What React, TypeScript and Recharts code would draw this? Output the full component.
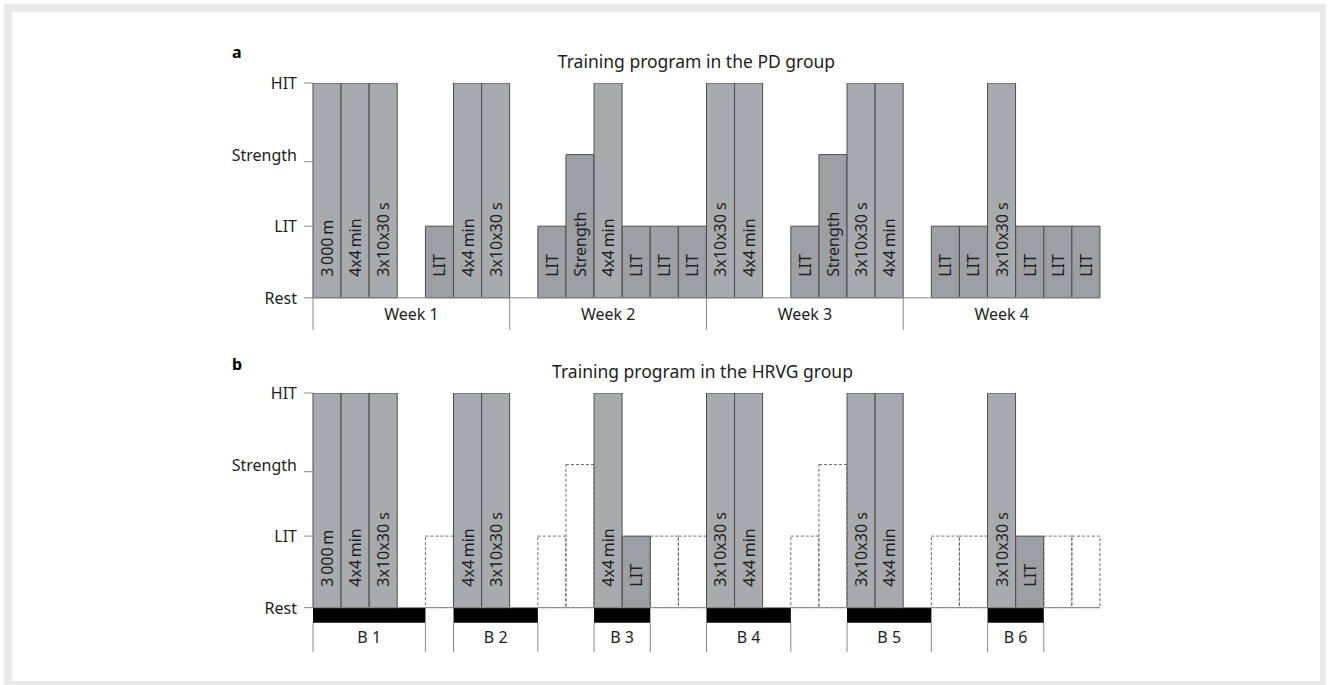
import React from 'react';
import { ComposedChart, Bar, XAxis, YAxis, ReferenceArea, ReferenceLine, Cell, LabelList } from 'recharts';

const days = ['d1','d2','d3','d4','d5','d6','d7','d8','d9','d10','d11','d12','d13','d14','d15','d16','d17','d18','d19','d20','d21','d22','d23','d24','d25','d26','d27','d28'];

// Panel a (PD group): 0 = Rest, 1 = LIT, 2 = Strength, 3 = HIT
const levelsA = [3,3,3,0,1,3,3, 0,1,2,3,1,1,1, 3,3,0,1,2,3,3, 0,1,1,3,1,1,1];
const labelsA = ['3\u2009000\u2009m','4x4\u2009min','3x10x30 s','','LIT','4x4\u2009min','3x10x30 s',
  '','LIT','Strength','4x4\u2009min','LIT','LIT','LIT',
  '3x10x30 s','4x4\u2009min','','LIT','Strength','3x10x30 s','4x4\u2009min',
  '','LIT','LIT','3x10x30 s','LIT','LIT','LIT'];

// Panel b (HRVG group): performed sessions (solid) and optional sessions (dashed)
const levelsB = [3,3,3,0,null,3,3, 0,null,null,3,1,null,null, 3,3,0,null,null,3,3, 0,null,null,3,1,null,null];
const plannedB = [null,null,null,null,1,null,null, null,1,2,null,null,1,1, null,null,null,1,2,null,null, null,1,1,null,null,1,1];
const labelsB = ['3\u2009000\u2009m','4x4\u2009min','3x10x30 s','','','4x4\u2009min','3x10x30 s',
  '','','','4x4\u2009min','LIT','','',
  '3x10x30 s','4x4\u2009min','','','','3x10x30 s','4x4\u2009min',
  '','','','3x10x30 s','LIT','',''];

const yTicks = [0, 1, 1.9, 3];
const yTickLabels = ['Rest', 'LIT', 'Strength', 'HIT'];

const weekNames = ['Week 1', 'Week 2', 'Week 3', 'Week 4'];
const weekStart = ['d1', 'd8', 'd15', 'd22'];
const weekEnd = ['d7', 'd14', 'd21', 'd28'];

const blockNames = ['B 1', 'B 2', 'B 3', 'B 4', 'B 5', 'B 6'];
const blockStart = ['d1', 'd6', 'd11', 'd15', 'd20', 'd25'];
const blockEnd = ['d4', 'd8', 'd12', 'd17', 'd22', 'd26'];

const dataA = days.map((d, i) => ({ day: d, level: levelsA[i], label: labelsA[i] }));
const dataB = days.map((d, i) => ({ day: d, level: levelsB[i], planned: plannedB[i], label: labelsB[i] }));

const FONT = '"Noto Sans", "Open Sans", sans-serif';
const HIT_FILL = '#a8aaad';
const LOW_FILL = '#9d9fa2';
const EDGE = '#4d4d4d';
const GRID = '#8a8a8a';
const TEXT = '#1e1e1e';

const YTick = (props: any) => {
  const { x, y, payload } = props;
  const idx = yTicks.indexOf(payload.value);
  const label = yTickLabels[idx];
  const dy = payload.value === 1.9 ? -7 : 0;
  return (
    <text x={x} y={y + dy} textAnchor="end" dominantBaseline="central" fontSize={16} fill={TEXT} fontFamily={FONT}>
      {label}
    </text>
  );
};

const BarText = (props: any) => {
  const vb = props.viewBox || {};
  const x = props.x ?? vb.x;
  const y = props.y ?? vb.y;
  const width = props.width ?? vb.width;
  const height = props.height ?? vb.height;
  const value = props.value;
  if (!value) return null;
  const cx = x + width / 2;
  const by = y + height - 21;
  return (
    <text x={cx} y={by} transform={`rotate(-90, ${cx}, ${by})`} textAnchor="start" dominantBaseline="central"
      fontSize={16} fill={TEXT} fontFamily={FONT}>
      {value}
    </text>
  );
};

const LeftLineShape = (props: any) => {
  const { x, y, width, height } = props;
  return <line x1={x} y1={y} x2={x} y2={y + height} stroke={GRID} strokeWidth={1} />;
};

const BothLinesShape = (props: any) => {
  const { x, y, width, height } = props;
  return (
    <g>
      <rect x={x} y={y} width={width} height={height} fill="#fff" />
      <line x1={x} y1={y} x2={x} y2={y + height} stroke={GRID} strokeWidth={1} />
      <line x1={x + width} y1={y} x2={x + width} y2={y + height} stroke={GRID} strokeWidth={1} />
    </g>
  );
};

const fillFor = (v: number | null) => (v === 3 ? HIT_FILL : LOW_FILL);

export default function App() {
  return (
    <div style={{ position: 'absolute', left: 0, top: 0, width: 1330, height: 685, fontFamily: FONT }}>
      <svg width={1330} height={685} style={{ position: 'absolute', left: 0, top: 0 }}>
        <rect x={4} y={4} width={1322} height={681} fill="#e9e9e9" />
        <rect x={12} y={12} width={1308} height={669} fill="#ffffff" />
        <text x={232} y={58} fontSize={16} fontWeight="bold" fill="#000" fontFamily={FONT}>a</text>
        <text x={696.5} y={68} fontSize={17.5} textAnchor="middle" fill={TEXT} fontFamily={FONT}>Training program in the PD group</text>
        <text x={232} y={370} fontSize={16} fontWeight="bold" fill="#000" fontFamily={FONT}>b</text>
        <text x={702.5} y={378} fontSize={17.5} textAnchor="middle" fill={TEXT} fontFamily={FONT}>Training program in the HRVG group</text>
      </svg>

      <div style={{ position: 'absolute', left: 0, top: 0 }}>
        <ComposedChart width={1330} height={340} data={dataA} margin={{ top: 83, right: 230, bottom: 10, left: 213 }}
          barCategoryGap={0} barGap={0}>
          <XAxis dataKey="day" hide />
          <YAxis type="number" domain={[-0.45, 3]} allowDataOverflow ticks={yTicks} interval={0} width={100}
            axisLine={false} tickLine={{ stroke: GRID }} tickSize={9} tickMargin={7} tick={<YTick />} />
          <ReferenceLine y={0} stroke={GRID} strokeWidth={1} />
          {weekNames.map((w, i) => (
            <ReferenceArea key={w} x1={weekStart[i]} x2={weekEnd[i]} y1={-0.45} y2={0} shape={<LeftLineShape />}
              label={{ value: w, position: 'center', fontSize: 16, fill: TEXT, fontFamily: FONT }} />
          ))}
          <Bar dataKey="level" isAnimationActive={false} stroke={EDGE} strokeWidth={1}>
            {dataA.map((e, i) => <Cell key={i} fill={fillFor(e.level)} />)}
            <LabelList dataKey="label" content={<BarText />} />
          </Bar>
        </ComposedChart>
      </div>

      <div style={{ position: 'absolute', left: 0, top: 340 }}>
        <ComposedChart width={1330} height={345} data={dataB} margin={{ top: 53, right: 230, bottom: 33, left: 213 }}
          barCategoryGap={0} barGap={0}>
          <XAxis dataKey="day" hide />
          <YAxis type="number" domain={[-0.62, 3]} allowDataOverflow ticks={yTicks} interval={0} width={100}
            axisLine={false} tickLine={{ stroke: GRID }} tickSize={9} tickMargin={7} tick={<YTick />} />
          <ReferenceLine y={0} stroke={GRID} strokeWidth={1} />
          {blockNames.map((b, i) => (
            <ReferenceArea key={'box' + b} x1={blockStart[i]} x2={blockEnd[i]} y1={-0.62} y2={-0.21} shape={<BothLinesShape />}
              label={{ value: b, position: 'center', fontSize: 16, fill: TEXT, fontFamily: FONT }} />
          ))}
          {blockNames.map((b, i) => (
            <ReferenceArea key={'band' + b} x1={blockStart[i]} x2={blockEnd[i]} y1={-0.21} y2={0}
              fill="#000" fillOpacity={1} stroke="none" />
          ))}
          <Bar dataKey="planned" stackId="b" isAnimationActive={false} fill="none" stroke="#6a6a6a"
            strokeWidth={1} strokeDasharray="3 2" />
          <Bar dataKey="level" stackId="b" isAnimationActive={false} stroke={EDGE} strokeWidth={1}>
            {dataB.map((e, i) => <Cell key={i} fill={fillFor(e.level)} />)}
            <LabelList dataKey="label" content={<BarText />} />
          </Bar>
        </ComposedChart>
      </div>
    </div>
  );
}
